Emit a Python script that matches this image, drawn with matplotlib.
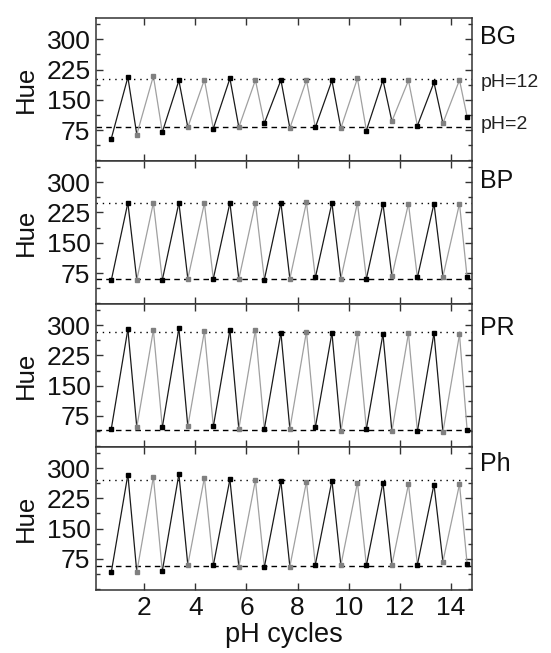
import matplotlib
matplotlib.use("Agg")
import matplotlib.pyplot as plt
from matplotlib.ticker import MultipleLocator

plt.rcParams['font.family'] = ['Liberation Sans', 'DejaVu Sans']

# measurement positions (pH 2 = low, pH 12 = high)
low_x = [0.7, 1.7, 2.7, 3.7, 4.7, 5.7, 6.7, 7.7, 8.7, 9.7, 10.7, 11.7, 12.7, 13.7, 14.65]
high_x = [1.35, 2.35, 3.35, 4.35, 5.35, 6.35, 7.35, 8.35, 9.35, 10.35, 11.35, 12.35, 13.35, 14.35]

panels = ["BG", "BP", "PR", "Ph"]

bg_low = [54, 64, 70, 82, 79, 82, 92, 80, 82, 80, 74, 97, 86, 92, 108]
bg_high = [206, 209, 198, 200, 203, 199, 199, 199, 198, 203, 199, 198, 193, 199]
bp_low = [57, 58, 58, 61, 61, 60, 59, 61, 64, 61, 61, 67, 64, 66, 64]
bp_high = [249, 249, 249, 248, 249, 249, 249, 250, 249, 249, 247, 247, 247, 247]
pr_low = [43, 47, 47, 49, 49, 43, 43, 43, 47, 37, 43, 37, 37, 35, 40]
pr_high = [290, 288, 292, 285, 288, 288, 281, 284, 281, 280, 278, 280, 280, 277]
ph_low = [42, 42, 45, 60, 59, 56, 55, 56, 61, 59, 59, 60, 61, 68, 63]
ph_high = [284, 278, 285, 276, 272, 270, 267, 266, 269, 264, 264, 260, 259, 260]

ref_low = [82, 60, 41, 57]       # pH = 2 reference (dashed)
ref_high = [202, 248, 284, 270]  # pH = 12 reference (dotted)

lows = [bg_low, bp_low, pr_low, ph_low]
highs = [bg_high, bp_high, pr_high, ph_high]

label_y = [0.817, 0.816, 0.787, 0.83]

yticks = [75, 150, 225, 300]
xticks = [2, 4, 6, 8, 10, 12, 14]

BLACK = "#000000"
GRAY_M = "#808080"
GRAY_L = "#a0a0a0"
SPINE = "#333333"
TXT = "#111111"

fig = plt.figure(figsize=(5.51, 6.53), dpi=100)
gs = fig.add_gridspec(4, 1, left=0.1742, right=0.8566, top=0.972, bottom=0.0965, hspace=0)
axes = [fig.add_subplot(gs[i]) for i in range(4)]

for i, ax in enumerate(axes):
    xs, ys = [], []
    for k in range(len(low_x)):
        xs.append(low_x[k]); ys.append(lows[i][k])
        if k < len(high_x):
            xs.append(high_x[k]); ys.append(highs[i][k])
    ax.axhline(ref_high[i], color=BLACK, ls=(0, (1, 3.5)), lw=1.0, zorder=1)
    ax.axhline(ref_low[i], color=BLACK, ls=(0, (4, 3)), lw=1.0, zorder=1)
    for j in range(len(xs) - 1):
        c = j // 2
        col = "#1a1a1a" if c % 2 == 0 else GRAY_L
        ax.plot(xs[j:j + 2], ys[j:j + 2], color=col, lw=0.9, zorder=2)
    for j in range(len(xs)):
        c = j // 2
        col = BLACK if c % 2 == 0 else GRAY_M
        ax.plot([xs[j]], [ys[j]], marker='s', ms=3.2, color=col, mec=col, ls='none', zorder=3)

    ax.set_xlim(0.1, 14.84)
    ax.set_ylim(-2, 352)
    ax.set_yticks(yticks)
    ax.yaxis.set_minor_locator(MultipleLocator(37.5))
    ax.set_xticks(xticks)
    ax.tick_params(which='both', direction='in', top=True, right=True, colors=SPINE,
                   labelcolor=TXT, width=1.0)
    ax.tick_params(which='major', length=5, labelsize=19, pad=4)
    ax.tick_params(which='minor', length=3)
    for s in ax.spines.values():
        s.set_color(SPINE)
        s.set_linewidth(1.1)
    if i < 3:
        ax.tick_params(labelbottom=False)
    ax.set_ylabel("Hue", fontsize=18.5, labelpad=6, color=TXT)
    ax.text(1.022, label_y[i], panels[i], transform=ax.transAxes, fontsize=18,
            va='baseline', ha='left', color=TXT)

axes[0].text(1.022, 0.519, "pH=12", transform=axes[0].transAxes, fontsize=14,
             va='baseline', ha='left', color='#222222')
axes[0].text(1.022, 0.222, "pH=2", transform=axes[0].transAxes, fontsize=14,
             va='baseline', ha='left', color='#222222')
axes[3].set_xlabel("pH cycles", fontsize=19.5, labelpad=2, color=TXT)

fig.savefig("out.png", dpi=100)
